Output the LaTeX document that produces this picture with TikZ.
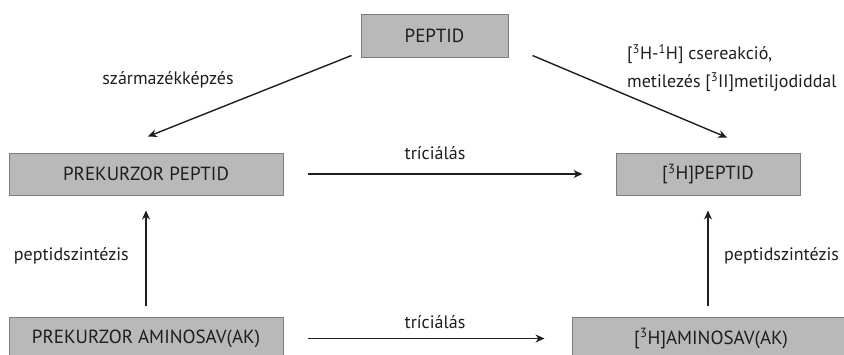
\documentclass[tikz,border=0pt]{standalone}
\usepackage{fontspec}
\setmainfont{PT Sans}
\usetikzlibrary{arrows.meta,calc}
\definecolor{boxfill}{RGB}{185,185,185}
\definecolor{boxline}{RGB}{125,125,125}
\definecolor{ink}{RGB}{30,30,30}
\tikzset{
  box/.style={draw=boxline, line width=1pt, fill=boxfill, inner sep=0pt, text=ink,
    font=\fontsize{19}{22}\selectfont},
  lbl/.style={text=ink, inner sep=0pt, font=\fontsize{18}{21}\selectfont},
  arr/.style={draw=ink, line width=1.4pt, -{Stealth[length=9pt,width=8pt]}},
}
\begin{document}
\begin{tikzpicture}[x=1pt,y=-1pt]
\useasboundingbox (0,0) rectangle (844,354);
\clip (0,0) rectangle (844,354);
% boxes
\node[box, minimum width=147pt, minimum height=43pt] (peptid) at (434.5,35.5) {PEPTID};
\node[box, minimum width=274pt, minimum height=42pt] (prepep) at (146,174) {PREKURZOR PEPTID};
\node[box, minimum width=184pt, minimum height=42pt] (hpep) at (708,174) {[\textsuperscript{3}H]PEPTID};
\node[box, minimum width=274pt, minimum height=43pt] (preamino) at (146,338.5) {PREKURZOR AMINOSAV(AK)};
\node[box, minimum width=278pt, minimum height=43pt] (hamino) at (711,338.5) {[\textsuperscript{3}H]AMINOSAV(AK)};
% connector ends
\coordinate (dl1) at ($(peptid.south west)+(-9,-2)$);
\coordinate (dl2) at ($(prepep.north)+(2,-16)$);
\coordinate (dr1) at ($(peptid.south east)+(24,-2)$);
\coordinate (dr2) at ($(hpep.north)+(19,-15)$);
\coordinate (vr1) at (hpep.south |- hamino.north);
% connectors
\draw[arr] (dl1) -- (dl2);
\draw[arr] (dr1) -- (dr2);
\draw[arr, shorten <=24pt, shorten >=33pt] (prepep.east) -- (hpep.west);
\draw[arr, shorten <=24pt, shorten >=27pt] (preamino.east) -- (hamino.west);
\draw[arr, shorten <=11pt, shorten >=15pt] (preamino.north) -- (prepep.south);
\draw[arr, shorten <=11pt, shorten >=15pt] (vr1) -- (hpep.south);
% labels
\node[lbl] (l1) at (168,80) {származékképzés};
\node[lbl] (l2) at (435,153) {tríciálás};
\node[lbl] (l3) at (435,322) {tríciálás};
\node[lbl, anchor=east] (l4) at (129,256) {peptidszintézis};
\node[lbl, anchor=west] (l5) at (724,256) {peptidszintézis};
\node[lbl, anchor=west, align=left, font=\fontsize{18}{28}\selectfont] (l6) at (627,68)
  {[\textsuperscript{3}H-\textsuperscript{1}H] csereakció,\\metilezés [\textsuperscript{3}II]metiljodiddal};
\end{tikzpicture}
\end{document}
